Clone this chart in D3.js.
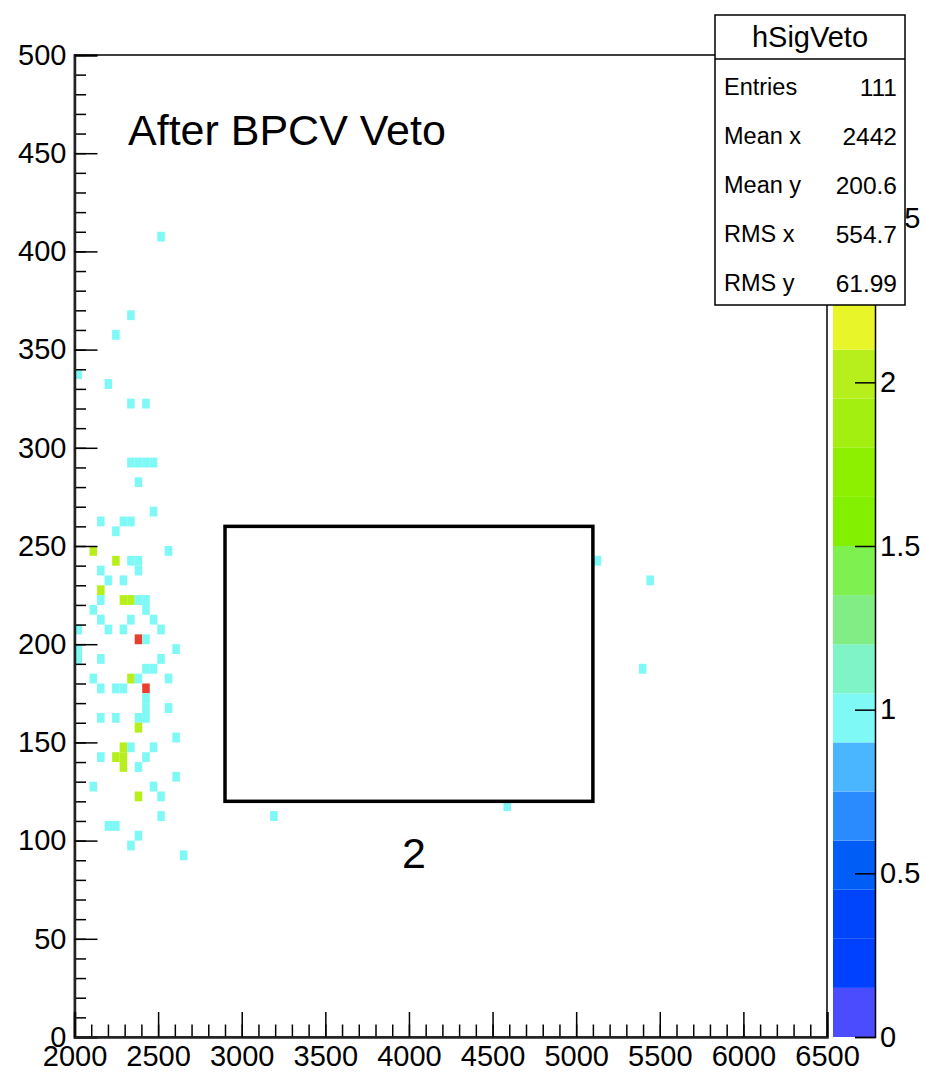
<!DOCTYPE html>
<html>
<head>
<meta charset="utf-8">
<script src="https://cdn.jsdelivr.net/npm/d3@7"></script>
<style>
  html, body { margin: 0; padding: 0; background: #fff; }
  svg { display: block; }
  text { font-family: "Liberation Sans", Arial, Helvetica, sans-serif; }
</style>
</head>
<body>
<script>
// ---------------- data ----------------
const histName = "hSigVeto";
const xRange = [2000, 6500];
const yRange = [0, 500];
const zRange = [0, 3];
const xBinWidth = 45;   // 100 bins over 2000..6500
const yBinWidth = 5;    // 100 bins over 0..500

// bin lower edges (x, y) and bin content (z)
const cellX = [2495,2315,2225,2000,2180,2315,2405,2315,2360,2405,2450,2360,2450,2135,2270,2315,2225,
  2090,2540,2225,2315,2360,5105,2135,2360,2180,2270,5420,2135,2135,2270,2315,2360,2405,2090,2405,
  2135,2315,2450,2000,2180,2270,2495,2360,2405,2000,2585,2000,2135,2495,2405,2450,5375,2090,2315,
  2360,2540,2135,2225,2270,2405,2405,2405,2540,2135,2225,2360,2405,2360,2585,2270,2315,2450,2135,
  2225,2270,2405,2270,2360,2585,2090,2450,2360,2495,4565,2495,3170,2180,2225,2360,2315,2630];
const cellY = [405,365,355,335,330,320,320,290,290,290,290,280,265,260,260,260,255,
  245,245,240,240,240,240,235,235,230,230,230,225,220,220,220,220,220,215,215,
  210,210,210,205,205,205,205,200,200,195,195,190,190,190,185,185,185,180,180,
  180,180,175,175,175,175,170,165,165,160,160,160,160,155,150,145,145,145,140,
  140,140,140,135,135,130,125,125,120,120,115,110,110,105,105,100,95,90];
const cellZ = [1,1,1,1,1,1,1,1,1,1,1,1,1,1,1,1,1,
  2,1,2,1,1,1,1,1,1,1,1,2,1,2,2,1,1,1,1,
  1,1,1,1,1,1,1,3,1,1,1,1,1,1,1,1,1,1,2,
  1,1,1,1,1,3,1,1,1,1,1,1,1,2,1,2,1,1,1,
  2,2,1,2,1,1,1,1,2,1,1,1,1,1,1,1,1,1];

const xTickMajor = [2000,2500,3000,3500,4000,4500,5000,5500,6000,6500];
const yTickMajor = [0,50,100,150,200,250,300,350,400,450,500];
const zTickMajor = [0,0.5,1,1.5,2,2.5];
const zTickLabels = ["0","0.5","1","1.5","2","2.5"];

// ROOT palette, 20 contour levels, bottom to top
const paletteColors = ["#4c4cff","#0040ff","#0044fc","#005ef6","#2a8aff","#4ab6ff",
  "#7ef9f5","#7ff4c6","#80ee84","#7ef050","#82f000","#8cf000","#a2ef10","#b6ef1c",
  "#e8f528","#f8dc28","#f8b828","#f78e2a","#f0602c","#e8402d"];

const statLabels = ["Entries","Mean x","Mean y","RMS x","RMS y"];
const statValues = ["111","2442","200.6","554.7","61.99"];

const annotTitle = "After BPCV Veto";
const boxX = [2900, 5100];
const boxY = [120, 260];
const boxLabel = "2";
const boxLabelPos = [4030, 86];

// ---------------- layout ----------------
const W = 926, H = 1083;
const frame = {left: 74.5, right: 827, top: 55, bottom: 1037};
const pal = {left: 833, right: 875};
const stats = {left: 715, right: 905, top: 15, bottom: 305, titleBottom: 59};
const labelFont = 29;

const svg = d3.select("body").append("svg").attr("width", W).attr("height", H);
svg.append("rect").attr("width", W).attr("height", H).attr("fill", "#fff");

const x = d3.scaleLinear().domain(xRange).range([frame.left, frame.right]);
const y = d3.scaleLinear().domain(yRange).range([frame.bottom, frame.top]);
const zy = d3.scaleLinear().domain(zRange).range([frame.bottom, frame.top]);
const nLev = paletteColors.length;
const zColor = v => paletteColors[Math.max(0, Math.min(nLev - 1,
  Math.floor(nLev * (v - zRange[0]) / (zRange[1] - zRange[0]))))];

// cells
const cells = cellX.map((cx, i) => ({x: cx, y: cellY[i], z: cellZ[i]}));
svg.append("g").selectAll("rect").data(cells).join("rect")
  .attr("x", d => x(d.x))
  .attr("y", d => y(d.y + yBinWidth))
  .attr("width", d => x(d.x + xBinWidth) - x(d.x))
  .attr("height", d => y(d.y) - y(d.y + yBinWidth))
  .attr("fill", d => zColor(d.z));

// palette
const levels = d3.range(nLev).map(i => ({
  lo: zRange[0] + i * (zRange[1] - zRange[0]) / nLev,
  hi: zRange[0] + (i + 1) * (zRange[1] - zRange[0]) / nLev,
  c: paletteColors[i]}));
svg.append("g").selectAll("rect").data(levels).join("rect")
  .attr("x", pal.left).attr("width", pal.right - pal.left)
  .attr("y", d => zy(d.hi)).attr("height", d => zy(d.lo) - zy(d.hi))
  .attr("fill", d => d.c);

const zAxis = d3.axisRight(zy).tickValues(zTickMajor)
  .tickFormat((d, i) => zTickLabels[i]).tickSize(-20).tickPadding(5);
const gz = svg.append("g").attr("transform", `translate(${pal.right},0)`).call(zAxis);
gz.select(".domain").attr("stroke", "#000").attr("stroke-width", 1.5);
gz.selectAll(".tick line").attr("stroke", "#000").attr("stroke-width", 1.5);
gz.selectAll("text").attr("font-size", labelFont).attr("fill", "#000")
  .attr("font-family", "Liberation Sans, Arial, sans-serif");

// frame
svg.append("rect").attr("x", frame.left).attr("y", frame.top)
  .attr("width", frame.right - frame.left).attr("height", frame.bottom - frame.top)
  .attr("fill", "none").attr("stroke", "#000").attr("stroke-width", 1.5);

// y axis
const yMinor = d3.range(yRange[0], yRange[1] + 1, 10);
const gyMinor = svg.append("g").attr("transform", `translate(${frame.left},0)`)
  .call(d3.axisLeft(y).tickValues(yMinor).tickSize(-11.5).tickFormat(""));
gyMinor.select(".domain").remove();
const gy = svg.append("g").attr("transform", `translate(${frame.left},0)`)
  .call(d3.axisLeft(y).tickValues(yTickMajor).tickSize(-23).tickPadding(8).tickFormat(d3.format("d")));
gy.select(".domain").attr("stroke", "#222").attr("stroke-width", 2.5);

// x axis
const xMinor = d3.range(xRange[0], xRange[1] + 1, 100);
const gxMinor = svg.append("g").attr("transform", `translate(0,${frame.bottom})`)
  .call(d3.axisBottom(x).tickValues(xMinor).tickSize(-12.5).tickFormat(""));
gxMinor.select(".domain").remove();
const gx = svg.append("g").attr("transform", `translate(0,${frame.bottom})`)
  .call(d3.axisBottom(x).tickValues(xTickMajor).tickSize(-25).tickPadding(8).tickFormat(d3.format("d")));
gx.select(".domain").attr("stroke", "#222").attr("stroke-width", 2.5);

[gyMinor, gy, gxMinor, gx].forEach(g => g.selectAll(".tick line").attr("stroke", "#000").attr("stroke-width", 1.5));
[gy, gx].forEach(g => g.selectAll("text").attr("font-size", labelFont).attr("fill", "#000")
  .attr("font-family", "Liberation Sans, Arial, sans-serif"));

// annotation box
svg.append("rect").attr("x", x(boxX[0])).attr("y", y(boxY[1]))
  .attr("width", x(boxX[1]) - x(boxX[0])).attr("height", y(boxY[0]) - y(boxY[1]))
  .attr("fill", "none").attr("stroke", "#000").attr("stroke-width", 3.5);
svg.append("text").attr("x", x(boxLabelPos[0])).attr("y", y(boxLabelPos[1]))
  .attr("font-family", "Lato, 'Open Sans', sans-serif").attr("font-size", 43)
  .attr("text-anchor", "middle").attr("fill", "#000").text(boxLabel);
svg.append("text").attr("x", 128).attr("y", 145)
  .attr("font-family", "Lato, 'Open Sans', sans-serif").attr("font-size", 43)
  .attr("fill", "#000").text(annotTitle);

// stats box
const sb = svg.append("g");
sb.append("rect").attr("x", stats.left).attr("y", stats.top)
  .attr("width", stats.right - stats.left).attr("height", stats.bottom - stats.top)
  .attr("fill", "#fff").attr("stroke", "#000").attr("stroke-width", 1.5);
sb.append("line").attr("x1", stats.left).attr("x2", stats.right)
  .attr("y1", stats.titleBottom).attr("y2", stats.titleBottom)
  .attr("stroke", "#000").attr("stroke-width", 1.5);
sb.append("text").attr("x", (stats.left + stats.right) / 2).attr("y", (stats.top + stats.titleBottom) / 2)
  .attr("dy", "0.36em").attr("text-anchor", "middle").attr("font-size", 29).text(histName);
const rowY = d3.scalePoint().domain(statLabels).range([87, 283]);
sb.selectAll("text.lab").data(statLabels).join("text").attr("class", "lab")
  .attr("x", stats.left + 9).attr("y", d => rowY(d)).attr("dy", "0.36em")
  .attr("font-size", 23.5).text(d => d);
sb.selectAll("text.val").data(statValues).join("text").attr("class", "val")
  .attr("x", stats.right - 8).attr("y", (d, i) => rowY(statLabels[i])).attr("dy", "0.36em")
  .attr("text-anchor", "end").attr("font-size", 24.5).text(d => d);
</script>
</body>
</html>
